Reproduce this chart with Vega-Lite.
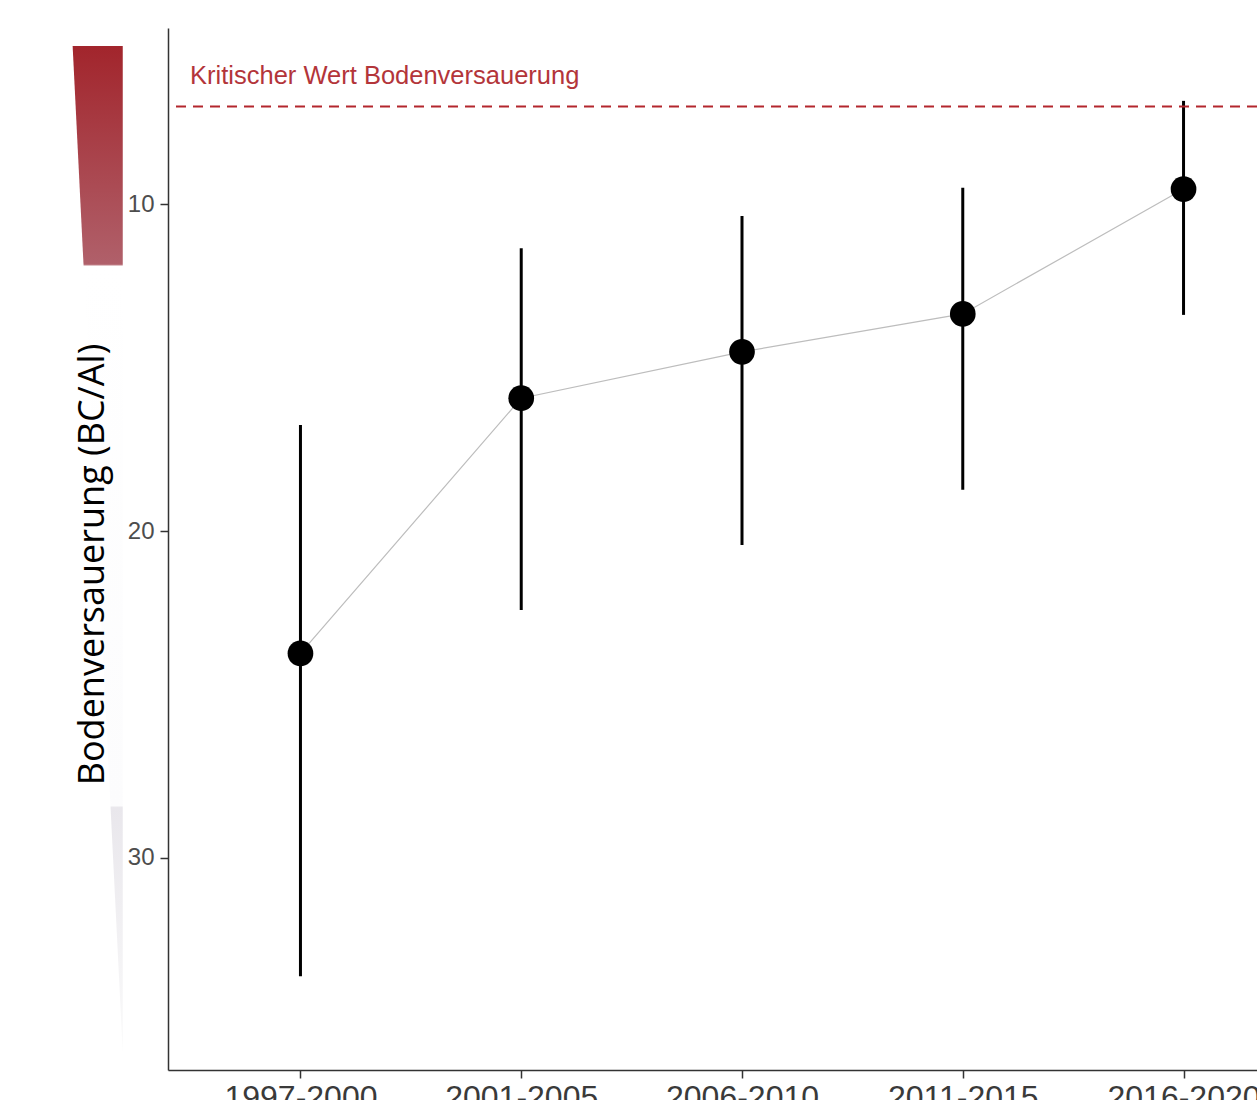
{
  "$schema": "https://vega.github.io/schema/vega-lite/v6.json",
  "autosize": {"type": "none"},
  "padding": {"left": 168, "top": 28, "right": 0, "bottom": 30},
  "width": 1089,
  "height": 1042,
  "background": "white",
  "config": {"view": {"stroke": null}, "font": "Liberation Sans"},
  "datasets": {
    "pts": [
      {"period": "1997-2000", "val": 23.74, "lo": 16.75, "hi": 33.62},
      {"period": "2001-2005", "val": 15.93, "lo": 11.34, "hi": 22.41},
      {"period": "2006-2010", "val": 14.51, "lo": 10.35, "hi": 20.42},
      {"period": "2011-2015", "val": 13.35, "lo": 9.49, "hi": 18.73},
      {"period": "2016-2020", "val": 9.53, "lo": 6.83, "hi": 13.38}
    ],
    "wedge": [
      {"val": 5.15, "pos": -0.032, "pos2": 0.195},
      {"val": 35.94, "pos": 0.195, "pos2": 0.195}
    ],
    "crit": [
      {"val": 7.0, "ty": 6.31, "pos": 0.5, "label": "Kritischer Wert Bodenversauerung"}
    ]
  },
  "layer": [
    {
      "data": {"name": "wedge"},
      "mark": {
        "type": "area",
        "orient": "horizontal",
        "clip": false,
        "fill": {
          "gradient": "linear",
          "x1": 0, "y1": 0, "x2": 0, "y2": 1,
          "stops": [
            {"offset": 0, "color": "#a2252c"},
            {"offset": 0.217, "color": "#b0606a"},
            {"offset": 0.219, "color": "#ffffff"},
            {"offset": 0.755, "color": "#fcfcfd"},
            {"offset": 0.757, "color": "#e9e7ec"},
            {"offset": 1, "color": "#fafafa"}
          ]
        }
      },
      "encoding": {
        "y": {"field": "val", "type": "quantitative", "title": "Bodenversauerung (BC/Al)",
              "scale": {"domain": [4.6, 36.49], "reverse": true, "nice": false, "zero": false}},
        "x": {"field": "pos", "type": "quantitative", "stack": null, "axis": null,
              "scale": {"domain": [0.4, 5.6], "range": [0, 1148], "nice": false, "zero": false}},
        "x2": {"field": "pos2"}
      }
    },
    {
      "data": {"name": "pts"},
      "mark": {"type": "line", "color": "#bdbdbd", "strokeWidth": 1.2},
      "encoding": {
        "x": {"field": "period", "type": "nominal", "axis": null, "sort": null,
              "scale": {"type": "point", "padding": 0.6, "range": [0, 1148]}},
        "y": {"field": "val", "type": "quantitative", "title": "Bodenversauerung (BC/Al)"}
      }
    },
    {
      "data": {"name": "pts"},
      "mark": {"type": "rule", "color": "#000000", "strokeWidth": 3},
      "encoding": {
        "x": {"field": "period", "type": "nominal", "axis": null, "sort": null,
              "scale": {"type": "point", "padding": 0.6, "range": [0, 1148]}},
        "y": {"field": "lo", "type": "quantitative", "title": "Bodenversauerung (BC/Al)"},
        "y2": {"field": "hi"}
      }
    },
    {
      "data": {"name": "pts"},
      "mark": {"type": "circle", "color": "#000000", "opacity": 1, "size": 660},
      "encoding": {
        "x": {"field": "period", "type": "nominal", "sort": null, "title": null,
              "scale": {"type": "point", "padding": 0.6, "range": [0, 1148]},
              "axis": {"labelAngle": 0, "labelFontSize": 32, "labelColor": "#3a3a3a",
                       "tickSize": 8, "tickColor": "#333333", "tickWidth": 1.5,
                       "domainColor": "#333333", "domainWidth": 1.5, "labelPadding": 4,
                       "grid": false, "title": null}},
        "y": {"field": "val", "type": "quantitative", "title": "Bodenversauerung (BC/Al)",
              "axis": {"values": [10, 20, 30], "grid": false, "tickSize": 8,
                       "tickColor": "#333333", "tickWidth": 1.5, "domainColor": "#333333",
                       "domainWidth": 1.5, "labelFontSize": 24, "labelColor": "#4d4d4d",
                       "labelPadding": 6, "titleFont": "Open Sans", "titleFontSize": 36,
                       "titleFontWeight": "normal", "titleColor": "#000000",
                       "titleAngle": 270, "titleX": -65, "titleY": 536,
                       "titleAlign": "center", "titleBaseline": "alphabetic", "zindex": 1}}
      }
    },
    {
      "data": {"name": "crit"},
      "mark": {"type": "rule", "color": "#b3262d", "strokeWidth": 2, "strokeDash": [10, 7]},
      "encoding": {
        "y": {"field": "val", "type": "quantitative", "title": "Bodenversauerung (BC/Al)"}
      }
    },
    {
      "data": {"name": "crit"},
      "mark": {"type": "text", "align": "left", "baseline": "alphabetic", "color": "#b3353a", "fontSize": 25.5},
      "encoding": {
        "x": {"field": "pos", "type": "quantitative", "axis": null,
              "scale": {"domain": [0.4, 5.6], "range": [0, 1148], "nice": false, "zero": false}},
        "y": {"field": "ty", "type": "quantitative", "title": "Bodenversauerung (BC/Al)"},
        "text": {"field": "label"}
      }
    }
  ],
  "resolve": {"scale": {"x": "independent"}, "axis": {"x": "independent"}}
}
